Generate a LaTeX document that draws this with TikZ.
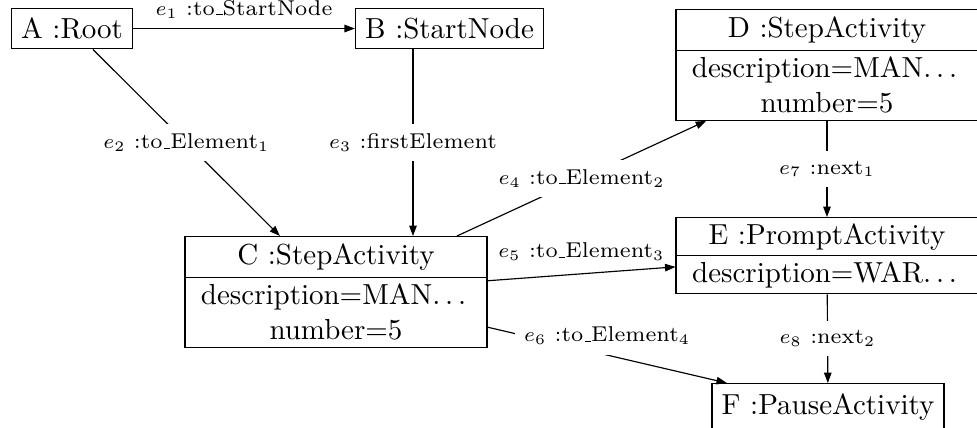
\documentclass[tikz,border=0pt]{standalone}
\usetikzlibrary{shapes.multipart,arrows.meta}
% short baseline rule and spaced dots, as in the classic OT1 encoding
\newcommand\usbar{\leavevmode\kern.06em\vbox{\hrule width.3em}}
\newcommand\spdots{.\kern\fontdimen3\font.\kern\fontdimen3\font.\kern\fontdimen3\font}
\begin{document}
\begin{tikzpicture}[x=0.345pt,y=-0.345pt,
  obj/.style={draw,rectangle,inner sep=3.33pt,font=\normalsize},
  splitobj/.style={draw,rectangle split,rectangle split parts=2,
    text width=97.5pt,align=center,inner xsep=3.33pt,font=\normalsize},
  conn/.style={draw,-{Triangle[length=3.6pt,width=2.6pt]}},
  lbltext/.style={font=\fontsize{7.4pt}{9pt}\selectfont,inner sep=3.33pt},
  lbl/.style={lbltext,fill=white}]
\useasboundingbox (0,0) rectangle (977,427);
\clip (0,0) rectangle (977,427);

% objects
\node[obj] (A) at (72,28.5) {A :Root};
\node[obj] (B) at (449.5,28.5) {B :StartNode};
\node[splitobj,inner ysep=2.2pt,anchor=north] (C) at (336,236)
  {C :StepActivity\nodepart{two}description=MAN\spdots\\number=5};
\node[splitobj,inner ysep=2.2pt,anchor=north] (D) at (827,9)
  {D :StepActivity\nodepart{two}description=MAN\spdots\\number=5};
\node[splitobj,inner ysep=1.8pt,anchor=north] (E) at (827,217)
  {E :PromptActivity\nodepart{two}description=WAR\spdots};
\node[obj,anchor=north] (F) at (828,383) {F :PauseActivity};

% links
\coordinate (e3x) at (413,0);
\draw[conn] (A) -- node[lbl,above] {$e_1$ :to\usbar StartNode} (B);
\draw[conn] (A) -- node[lbl] {$e_2$ :to\usbar Element$_1$} (C);
\draw[conn] (B.south -| e3x) -- node[lbl] {$e_3$ :firstElement} (C.north -| e3x);
\draw[conn] (C) -- node[lbl] {$e_4$ :to\usbar Element$_2$} (D);
\draw[conn] (C) -- node[lbltext,above,yshift=1pt] {$e_5$ :to\usbar Element$_3$} (E);
\draw[conn] (C) -- node[lbl,above] {$e_6$ :to\usbar Element$_4$} (F);
\draw[conn] (D) -- node[lbl] {$e_7$ :next$_1$} (E);
\draw[conn] (E) -- node[lbl] {$e_8$ :next$_2$} (F);
\end{tikzpicture}
\end{document}
